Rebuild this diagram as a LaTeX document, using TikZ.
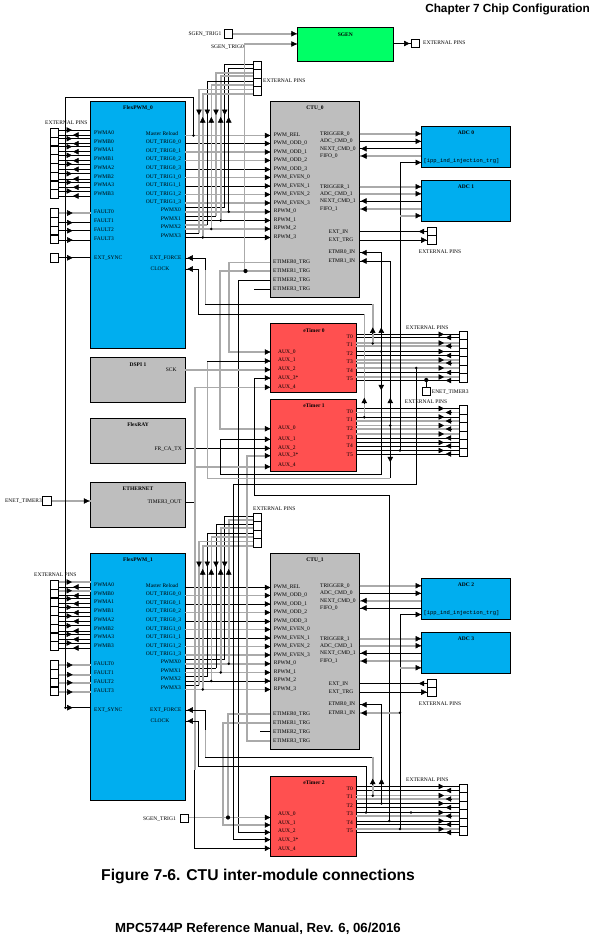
\documentclass[tikz,border=0pt]{standalone}
\usepackage{fontspec}
\setmainfont{Liberation Serif}
\setsansfont{Liberation Sans}
\setmonofont{Liberation Mono}
\usetikzlibrary{arrows.meta}
\definecolor{pwmblue}{RGB}{0,174,239}
\definecolor{ctugray}{RGB}{190,190,190}
\definecolor{timerred}{RGB}{255,80,80}
\definecolor{sgengreen}{RGB}{0,255,102}
\definecolor{wiregray}{RGB}{170,170,170}

\begin{document}
\begin{tikzpicture}[
    x=1pt, y=-1pt,
    block/.style={draw, anchor=north west, line width=0.9pt, inner sep=0pt, outer sep=0pt},
    pinbox/.style={draw, fill=white, line width=0.8pt, minimum width=8pt, minimum height=8.6pt, inner sep=0pt, outer sep=0pt},
    lbl/.style={font=\fontsize{5.5}{6}\selectfont, inner sep=0pt, text height=3.6pt, text depth=0.4pt},
    ttl/.style={lbl, font=\fontsize{5.5}{6}\selectfont\bfseries},
    wb/.style={line width=0.8pt},
    wg/.style={line width=1.6pt, wiregray},
    c0bb/.style={wb}, c1bb/.style={wb},
    c0bg/.style={wb}, c1bg/.style={wg},
    c0gb/.style={wg}, c1gb/.style={wb},
    c0gg/.style={wg}, c1gg/.style={wg},
    midtip/.style={-{Triangle[length=5.5pt,width=5.5pt]}, line width=0.5pt},
    dot/.style={circle, fill=black, inner sep=0pt, minimum size=2.8pt},
    bigdot/.style={dot, minimum size=4.2pt},
    head/.style={inner sep=0pt},
]
\useasboundingbox (0,0) rectangle (592,938);

% Page texts
\node[head, font=\fontsize{11.8}{13}\selectfont\sffamily\bfseries, anchor=east] (chapter) at (590,9) {Chapter 7 Chip Configuration};
\node[head, font=\fontsize{15.7}{18}\selectfont\sffamily\bfseries, anchor=west] (caption) at (101,876) {Figure 7-6. CTU inter-module connections};
\node[head, font=\fontsize{13.2}{15}\selectfont\sffamily\bfseries, anchor=west] (manual) at (115,929) {MPC5744P Reference Manual, Rev. 6, 06/2016};

% The two PWM + CTU + ADC groups
\foreach \off/\n/\adcA/\adcB in {0/0/0/1, 452/1/2/3} {
    \node[block, fill=pwmblue, minimum width=94.6pt, minimum height=246.8pt] (pwm\n) at (90.7,\off+101.5) {};
    \node[block, fill=ctugray, minimum width=89.2pt, minimum height=195.8pt] (ctu\n) at (270.3,\off+101.5) {};
    \node[block, fill=pwmblue, minimum width=89pt, minimum height=41pt] (adc\adcA) at (421.3,\off+126.3) {};
    \node[block, fill=pwmblue, minimum width=89pt, minimum height=41pt] (adc\adcB) at (421.3,\off+180.3) {};
    \node[ttl] (pwmttl\n) at (138,\off+108) {FlexPWM\_\n};
    \node[ttl] (ctuttl\n) at (315,\off+108) {CTU\_\n};
    \node[ttl] (adcttl\adcA) at (466,\off+133) {ADC \adcA};
    \node[ttl] (adcttl\adcB) at (466,\off+187) {ADC \adcB};
    \node[lbl, font=\fontsize{5.5}{6}\selectfont\ttfamily, anchor=west] (inj\n) at (423.3,\off+161) {[ipp\_ind\_injection\_trg]};

    % PWM outputs to the left pin stack
    \foreach \i/\t/\yt/\ya/\yb/\ca in {0/PWMA0/132.7/130/135/bg, 1/PWMB0/142/138.7/143.7/bg, 2/PWMA1/150.3/146.7/151.7/bb, 3/PWMB1/159/155.3/160.7/bb, 4/PWMA2/168/164/169.3/bb, 5/PWMB2/177/173.7/179/bb, 6/PWMA3/185/182.3/187.3/bb, 7/PWMB3/194/191/196/bb} {
        \node[pinbox] (pl\n_\i) at (54.5,\off+132.7+8.75*\i) {};
        \node[lbl, anchor=west] (pll\n_\i) at (94,\off+\yt) {\t};
        \draw[c\n\ca] (pl\n_\i.east |- 0,\off+\ya) -- (pwm\n.west |- 0,\off+\ya);
        \draw[wb] (pl\n_\i.east |- 0,\off+\yb) -- (pwm\n.west |- 0,\off+\yb);
        \draw[midtip] (67,\off+\ya) -- (72,\off+\ya);
        \draw[midtip] (78,\off+\yb) -- (73,\off+\yb);
    }

    % Fault inputs
    \foreach \i/\yt/\y/\ca in {0/212/213/gg, 1/221/222.7/bg, 2/230/230.7/bg, 3/239/240/bg} {
        \node[pinbox] (pf\n_\i) at (54.5,\off+212.9+8.8*\i) {};
        \node[lbl, anchor=west] (pfl\n_\i) at (94,\off+\yt) {FAULT\i};
        \draw[c\n\ca] (pf\n_\i.east |- 0,\off+\y) -- (pwm\n.west |- 0,\off+\y);
        \draw[midtip] (67.7,\off+\y) -- (72.7,\off+\y);
    }
    \node[lbl, anchor=west] (sync\n) at (94,\off+258) {EXT\_SYNC};
    \node[lbl, anchor=west] (force\n) at (150,\off+258) {EXT\_FORCE};
    \node[lbl, anchor=west] (clock\n) at (150.5,\off+269) {CLOCK};

    % PWM to CTU
    \foreach \i/\tl/\tr/\y/\yr/\yc/\ca in {0/Master Reload/PWM\_REL/134/135/135.5/gb, 1/OUT\_TRIG0\_0/PWM\_ODD\_0/142/143/143.5/bg, 2/OUT\_TRIG0\_1/PWM\_ODD\_1/151/152/152/gb, 3/OUT\_TRIG0\_2/PWM\_ODD\_2/159.3/160/160.5/gg, 4/OUT\_TRIG0\_3/PWM\_ODD\_3/168.3/169/169.5/bb, 5/OUT\_TRIG1\_0/PWM\_EVEN\_0/177/177/177.5/gg, 6/OUT\_TRIG1\_1/PWM\_EVEN\_1/185/186/186/bb, 7/OUT\_TRIG1\_2/PWM\_EVEN\_2/194/194/194.5/gg, 8/OUT\_TRIG1\_3/PWM\_EVEN\_3/202/203/203/gg} {
        \node[lbl, anchor=west] (ot\n_\i) at (145.7,\off+\y) {\tl};
        \node[lbl, anchor=west] (ci\n_\i) at (273.7,\off+\yr) {\tr};
        \draw[c\n\ca] (pwm\n.east |- 0,\off+\yc) -- (ctu\n.west |- 0,\off+\yc);
        \draw[midtip] (265,\off+\yc) -- (270.3,\off+\yc);
    }

    % PWMX pins, going down to the PWM and up from it
    \foreach \i/\xd/\yd/\pd/\xu/\yu/\pu/\yt/\cd/\cp/\cu/\cr in {0/224.7/64.3/207.5/228.7/68/211.7/210/bb/bb/bg/gg, 1/216/72.7/216/220.7/75.7/220.5/219/gb/bb/gg/bg, 2/207.3/81.3/224.7/211.3/85/229/227/bb/gb/gg/gb, 3/199/89.3/233/202.7/93.7/237.5/236/gg/bb/gg/bg} {
        \node[pinbox, minimum height=8.5pt] (ph\n_\i) at (257,\off+65.6+8.5*\i) {};
        \node[lbl, anchor=east] (px\n_\i) at (181,\off+\yt) {PWMX\i};
        \node[lbl, anchor=west] (rp\n_\i) at (273.7,\off+\yt+1) {RPWM\_\i};
        \draw[c\n\cp] (\xd,\off+\pd) -- (pwm\n.east |- 0,\off+\pd);
        \draw[c\n\cr] (pwm\n.east |- 0,\off+\pu) -- (ctu\n.west |- 0,\off+\pu);
        \draw[c\n\cd] (ph\n_\i.west |- 0,\off+\yd) -| (\xd,\off+\pd);
        \draw[c\n\cu] (ph\n_\i.west |- 0,\off+\yu) -| (\xu,\off+\pu);
        \node[dot] (pxd\n_\i) at (\xu,\off+\pu) {};
        \draw[midtip] (\xd,\off+109.5) -- (\xd,\off+115);
        \draw[midtip] (\xu,\off+122.5) -- (\xu,\off+117);
        \draw[midtip] (265,\off+\pu) -- (270.3,\off+\pu);
    }

    % CTU trigger labels and ADC wires
    \foreach \t/\y in {ETIMER0\_TRG/262, ETIMER1\_TRG/271, ETIMER2\_TRG/280, ETIMER3\_TRG/289} {
        \node[lbl, anchor=west] at (273,\off+\y) {\t};
    }
    \foreach \a/\t/\y/\ca in {\adcA/TRIGGER\_0/133.7/gg, \adcA/ADC\_CMD\_0/141.3/bb, \adcB/TRIGGER\_1/186.7/gg, \adcB/ADC\_CMD\_1/193.7/gg} {
        \node[lbl, anchor=west] at (320,\off+\y) {\t};
        \draw[c\n\ca] (ctu\n.east |- 0,\off+\y) -- (adc\a.west |- 0,\off+\y);
        \draw[midtip] (415.7,\off+\y) -- (421,\off+\y);
    }
    \foreach \a/\t/\y/\ca in {\adcA/NEXT\_CMD\_0/148.7/bg, \adcA/FIFO\_0/156/gb, \adcB/NEXT\_CMD\_1/201/bb, \adcB/FIFO\_1/209/gg} {
        \node[lbl, anchor=west] at (320,\off+\y) {\t};
        \draw[c\n\ca] (ctu\n.east |- 0,\off+\y) -- (adc\a.west |- 0,\off+\y);
        \draw[midtip] (366.3,\off+\y) -- (361,\off+\y);
    }

    % EXT pins at the CTU
    \node[pinbox, minimum width=9pt] (ex\n_0) at (431.8,\off+231.5) {};
    \node[pinbox, minimum width=9pt] (ex\n_1) at (431.8,\off+240.1) {};
    \node[lbl, anchor=west] (extin\n) at (328.7,\off+232) {EXT\_IN};
    \node[lbl, anchor=west] (exttrg\n) at (328.7,\off+240) {EXT\_TRG};
    \node[lbl, anchor=west] (extlbl\n) at (418.7,\off+252) {EXTERNAL PINS};
    \draw[wb] (ctu\n.east |- ex\n_0) -- (ex\n_0.west);
    \draw[wb] (ctu\n.east |- ex\n_1) -- (ex\n_1.west);
    \draw[midtip] (424,\off+231.5) -- (418.7,\off+231.5);
    \draw[midtip] (421.4,\off+240.1) -- (426.7,\off+240.1);
    \node[lbl, anchor=west] (etmra\n) at (328.3,\off+252) {ETMR0\_IN};
    \node[lbl, anchor=west] (etmrb\n) at (328.3,\off+261) {ETMR1\_IN};
}
\node[lbl, anchor=west] (plpins0) at (45,123) {EXTERNAL PINS};
\node[lbl, anchor=west] (plpins1) at (34,575) {EXTERNAL PINS};
\node[lbl, anchor=west] (phpins0) at (263,81) {EXTERNAL PINS};
\node[lbl, anchor=west] (phpins1) at (253,509) {EXTERNAL PINS};

% Single pin of the first PWM
\node[pinbox, minimum height=9pt] (psync) at (54.5,257.8) {};
\draw[wb] (psync.east) -- (pwm0.west |- psync);
\draw[midtip] (67.7,257.8) -- (72.7,257.8);

% Other modules
\node[block, fill=sgengreen, minimum width=96pt, minimum height=33.7pt] (sgen) at (297.3,27.6) {};
\node[block, fill=ctugray, minimum width=94.6pt, minimum height=45pt] (dspi) at (90.7,357.3) {};
\node[block, fill=ctugray, minimum width=94.6pt, minimum height=45pt] (flexray) at (90.7,418.3) {};
\node[block, fill=ctugray, minimum width=94.6pt, minimum height=45pt] (eth) at (90.7,482.3) {};
\node[block, fill=timerred, minimum width=86pt, minimum height=69pt] (etm0) at (270.3,323.3) {};
\node[block, fill=timerred, minimum width=86pt, minimum height=72pt] (etm1) at (270.3,399.3) {};
\node[block, fill=timerred, minimum width=86pt, minimum height=79.3pt] (etm2) at (270.3,776.7) {};
\node[ttl] (sgenttl) at (345.3,35) {SGEN};
\node[ttl] (dspittl) at (138,365) {DSPI 1};
\node[ttl] (frttl) at (138,424.7) {FlexRAY};
\node[ttl] (ethttl) at (138,489) {ETHERNET};
\node[ttl] (etmttl0) at (314,331) {eTimer 0};
\node[ttl] (etmttl1) at (314,406) {eTimer 1};
\node[ttl] (etmttl2) at (314,783) {eTimer 2};
\node[lbl, anchor=east] (sck) at (176.7,369.7) {SCK};
\node[lbl, anchor=east] (frtx) at (182,449) {FR\_CA\_TX};
\node[lbl, anchor=east] (t3out) at (181.7,502) {TIMER3\_OUT};

% SGEN pins
\node[pinbox] (psg1) at (228.5,33.7) {};
\node[pinbox] (psgout) at (415,43.5) {};
\node[pinbox] (psg2) at (184.5,818.5) {};
\node[pinbox, minimum width=9.4pt] (penet) at (47,500.7) {};
\node[pinbox] (penet2) at (426.3,391.3) {};
\node[lbl, anchor=east] at (221.5,34) {SGEN\_TRIG1};
\node[lbl, anchor=east] at (244,47) {SGEN\_TRIG0};
\node[lbl, anchor=east] at (176,819) {SGEN\_TRIG1};
\node[lbl, anchor=west] at (423,43) {EXTERNAL PINS};
\node[lbl, anchor=east] at (42,501) {ENET\_TIMER3};
\node[lbl, anchor=west] at (431.7,392) {ENET\_TIMER3};
\draw[wg] (psg1.east) -- (sgen.west |- psg1);
\draw[wb] (sgen.east |- psgout) -- (psgout.west);
\draw[wg] (sgen.west |- 0,44) -| (244.5,271);
\draw[wg] (penet.east |- 0,501) -- (eth.west |- 0,501);
\draw[wb] (penet2.north) -- (penet2.north |- 0,380);
\draw[midtip] (291.5,33.7) -- (296.8,33.7);
\draw[midtip] (291.5,44) -- (296.8,44);
\draw[midtip] (404.2,43.5) -- (409.5,43.5);
\draw[midtip] (84,501) -- (89.3,501);

% eTimer outputs to their pin stacks
\foreach \t/\ytop in {0/331.3, 1/405.7, 2/784.3} {
    \foreach \i in {0,...,5} {
        \node[pinbox, minimum height=8.5pt] (tp\t_\i) at (463.3,\ytop+4.25+8.5*\i) {};
    }
}
\node[lbl, anchor=west] (tpins0) at (406,328) {EXTERNAL PINS};
\node[lbl, anchor=west] (tpins1) at (404.7,402) {EXTERNAL PINS};
\node[lbl, anchor=west] (tpins2) at (406,780) {EXTERNAL PINS};
\foreach \t/\i/\ya/\yb/\yl/\ca/\cb in {0/0/334.3/337.5/337/b/b, 0/1/343/346/345/g/g, 0/2/351.5/355.5/354/b/b, 0/3/360/363/362/g/g, 0/4/368/372.5/371/g/b, 0/5/377/380.5/379/g/b, 1/0/408.5/412.5/412/b/g, 1/1/417/421/420.3/b/g, 1/2/425.5/429/429/g/g, 1/3/434/438/438/g/b, 1/4/442.5/446/446/b/b, 1/5/450.5/454/455/b/b, 2/0/786.5/790.5/789/b/b, 2/1/795.5/799/797/g/g, 2/2/803.5/807.5/806/b/b, 2/3/812.5/816/814/b/g, 2/4/821/824.5/823/b/b, 2/5/829/832.5/831/g/b} {
    \node[lbl, anchor=east] (tl\t_\i) at (353,\yl) {T\i};
    \draw[w\ca] (etm\t.east |- 0,\ya) -- (tp\t_\i.west |- 0,\ya);
    \draw[w\cb] (etm\t.east |- 0,\yb) -- (tp\t_\i.west |- 0,\yb);
    \draw[midtip] (438.7,\ya) -- (444,\ya);
    \draw[midtip] (451,\yb) -- (445.7,\yb);
}

% Junctions
\coordinate (dotmr) at (193.5,135.5);
\coordinate (dotsync) at (65.5,707.7);
\coordinate (dotsg2) at (228,817.5);
\coordinate (dotfa) at (372.7,343.5);
\coordinate (dotcla) at (364.3,417.3);
\coordinate (dotfb) at (372.7,795.7);
\coordinate (dotclb) at (366,812.5);
\coordinate (dotea) at (381.3,351.5);
\coordinate (doteb) at (390.3,425.5);
\coordinate (dotec) at (381.5,803.5);
\coordinate (dotaux) at (389.3,821);
\coordinate (dotaux3) at (416.3,368);
\coordinate (dottb) at (411,812.5);
\coordinate (dotadc) at (400,450.5);
\coordinate (dotadc2) at (400,829);
\coordinate (dotin1) at (400,712.7);

% Master reload to the second PWM sync
\draw[wb] (dotmr) |- (65.5,97.5) |- (pwm1.west |- dotsync);
\draw[midtip] (67.7,707.7) -- (72.7,707.7);

% First CTU triggers
\draw[wg] (ctu0.west |- 0,262.3) -| (228.7,352) -- (etm0.west |- 0,352);
\draw[wg] (ctu0.west |- 0,271) -| (220,428.7) -- (etm1.west |- 0,428.7);
\draw[wb] (ctu0.west |- 0,280) -| (238.7,832.3) -- (etm2.west |- 0,832.3);
\draw[wb] (ctu0.west |- 0,289) -- (254,289);

% Second CTU triggers
\draw[wg] (psg2.east |- dotsg2) -- (etm2.west |- dotsg2);
\draw[wg] (ctu1.west |- 0,714) -| (dotsg2);
\draw[wg] (ctu1.west |- 0,723) -| (222.7,825) -- (etm2.west |- 0,825);
\draw[wb] (ctu1.west |- 0,731.7) -- (260,731.7);
\draw[wg] (ctu1.west |- 0,740.7) -| (246.7,455.7) -- (etm1.west |- 0,455.7);

% Module outputs to the eTimers
\draw[wg] (dspi.east |- 0,369.7) -- (etm0.west |- 0,369.7);
\draw[wb] (flexray.east |- 0,448.3) -- (etm1.west |- 0,448.3);
\draw[wb] (eth.east |- 0,502) -- (194.7,502);
\draw[wg] (etm0.west |- 0,387.3) -| (194.7,770);
\draw[wb] (194.7,770) |- (etm2.west |- 0,848.3);
\draw[wg] (194.7,466.7) -- (etm1.west |- 0,466.7);

% eTimer feedback nets
\draw[wb] (pwm0.east |- 0,258) -| (205.5,304) -- (372.7,304);
\draw[wg] (205.5,270) -- (205.5,304);
\draw[wg] (372.7,304) -- (dotfa);
\draw[wb] (pwm0.east |- 0,269) -| (198.3,314.3) -- (364.3,314.3);
\draw[wg] (364.3,314.3) -- (dotcla);
\draw[wb] (pwm1.east |- 0,710) -| (205.3,757.3) -- (372.7,757.3);
\draw[wg] (205.3,730) -- (205.3,757.3);
\draw[wg] (372.7,757.3) -- (dotfb);
\draw[wb] (pwm1.east |- 0,721) -| (198.3,766.7) -| (dotclb);
\draw[wb] (ctu0.east |- 0,252.7) -| (381.3,474.3) -| (220,439.3) -- (etm1.west |- 0,439.3);
\draw[wg] (390.3,478.3) -| (207.3,361);
\draw[wb] (ctu0.east |- 0,261) -| (390.3,478.3);
\draw[wb] (207.3,361) -- (etm0.west |- 0,361);
\draw[wb] (etm0.west |- 0,378) -| (254.5,495) -| (dotaux);
\draw[wb] (etm2.west |- 0,839.7) -| (233.3,484.3) -| (dotaux3);
\draw[wb] (adc0.west |- 0,162.5) -| (dotadc);
\draw[wg] (adc1.west |- 0,215.7) -- (400,215.7);
\draw[wb] (adc2.west |- 0,614.5) -| (dotadc2);
\draw[wg] (adc3.west |- 0,667.7) -- (400,667.7);
\draw[wg] (ctu1.east |- dotin1) -- (dotin1);
\draw[wb] (ctu1.east |- 0,704.7) -| (dotec);

% Arrow heads on the nets
\foreach \b in {0,1} {
    \foreach \x/\y/\l in {192.6/258/5.3, 192.6/269/5.3, 366.3/252.7/5.3, 366.3/261/5.3} {
        \pgfmathsetmacro{\yy}{\y+452*\b}
        \draw[midtip] (\x,\yy) -- (\x-\l,\yy);
    }
    \foreach \x/\y in {415.7/162.5, 415.7/215.7} {
        \pgfmathsetmacro{\yy}{\y+452*\b}
        \draw[midtip] (\x,\yy) -- (\x+5.3,\yy);
    }
}
\foreach \y in {352, 361, 369.7, 378, 387.3, 428.7, 439.3, 448.3, 455.7, 466.7, 817.5, 825, 832.3, 839.7, 848.3} {
    \draw[midtip] (265,\y) -- (270.3,\y);
}
\foreach \x/\y in {372.7/332.7, 381.3/332.7, 364.3/403, 390.3/403, 372.7/784, 381.5/784} {
    \draw[midtip] (\x,\y) -- (\x,\y-5.3);
}
\foreach \x/\y in {381.3/385, 390.3/457} {
    \draw[midtip] (\x,\y) -- (\x,\y+5.3);
}

% eTimer AUX labels
\foreach \lab/\y in {AUX\_0/352, AUX\_1/360, AUX\_2/369, AUX\_3*/378, AUX\_4/387, AUX\_0/428, AUX\_1/439.3, AUX\_2/448.3, AUX\_3*/455.3, AUX\_4/465, AUX\_0/814, AUX\_1/823, AUX\_2/831, AUX\_3*/839.7, AUX\_4/849} {
    \node[lbl, anchor=west] at (278,\y) {\lab};
}

% Dots over the wires
\foreach \d in {dotmr, dotsync, dotfa, dotcla, dotfb, dotclb, dotea, doteb, dotec, dotaux, dotaux3, dottb, dotadc, dotadc2, dotin1} {
    \node[dot] (m\d) at (\d) {};
}
\node[bigdot] (dotenet) at (penet2.north |- 0,380) {};
\node[bigdot] (dotsgen) at (245.5,271) {};
\node[bigdot] (mdotsg2) at (dotsg2) {};
\end{tikzpicture}
\end{document}
